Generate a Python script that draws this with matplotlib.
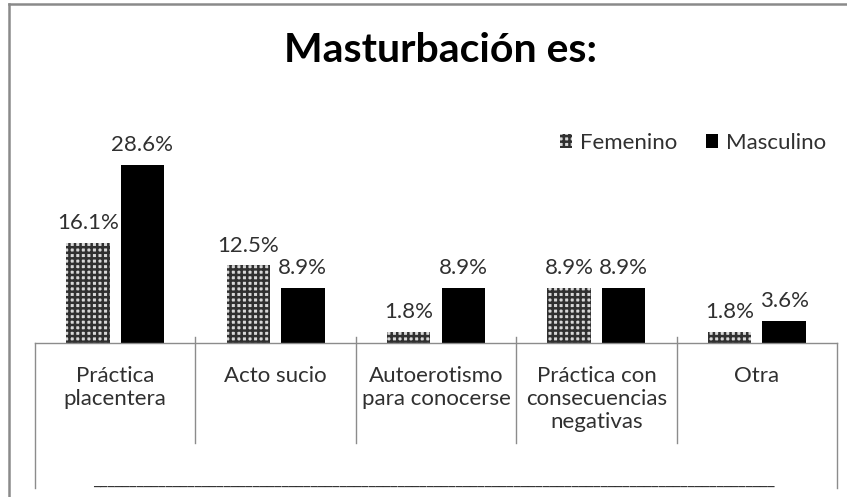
import matplotlib
matplotlib.use("Agg")
import matplotlib.pyplot as plt
import matplotlib.patches as mpatches
import matplotlib.lines as mlines
import matplotlib.transforms as mtransforms
import numpy as np

categories = ["Práctica\nplacentera", "Acto sucio", "Autoerotismo\npara conocerse",
              "Práctica con\nconsecuencias\nnegativas", "Otra"]
femenino = [16.1, 12.5, 1.8, 8.9, 1.8]
masculino = [28.6, 8.9, 8.9, 8.9, 3.6]
series_names = ["Femenino", "Masculino"]
title = "Masturbación es:"

plt.rcParams['font.family'] = ['Lato', 'DejaVu Sans']
plt.rcParams['hatch.linewidth'] = 1.8

W, H = 847, 497
fig = plt.figure(figsize=(W / 100, H / 100), dpi=100)

# frame (only top and left edges visible)
fig.add_artist(mlines.Line2D([9 / W, 9 / W], [0, (H - 4) / H], transform=fig.transFigure,
                             color='#8a8a8a', lw=1.8))
fig.add_artist(mlines.Line2D([9 / W, 1], [(H - 4) / H, (H - 4) / H], transform=fig.transFigure,
                             color='#8a8a8a', lw=1.8))

left, right, base = 35, 837, 343
ymax = 30.0
ppu = 6.22
top = base - ymax * ppu
ax = fig.add_axes([left / W, (H - base) / H, (right - left) / W, (base - top) / H])
ax.set_xlim(-0.5, len(categories) - 0.5)
ax.set_ylim(0, ymax)
for s in ['top', 'left', 'right']:
    ax.spines[s].set_visible(False)
ax.spines['bottom'].set_color('#8c8c8c')
ax.spines['bottom'].set_linewidth(1.0)
ax.set_yticks([])

x = np.arange(len(categories))
bw = 0.27
off = 0.17
fb = ax.bar(x - off, femenino, bw, facecolor='#d8d8d8', edgecolor='#303030', hatch='+++', linewidth=0)
mb = ax.bar(x + off, masculino, bw, color='black')

fs = 16
for bars, vals in ((fb, femenino), (mb, masculino)):
    for b, v in zip(bars, vals):
        ax.annotate(f"{v:.1f}%", (b.get_x() + b.get_width() / 2, v), xytext=(0, 7),
                    textcoords='offset points', ha='center', va='bottom',
                    fontsize=fs, color='#303030')

ax.set_xticks(x)
ax.set_xticklabels(categories, fontsize=fs, color='#303030', linespacing=1.2)
ax.tick_params(axis='x', length=0, pad=16.5)

# separators
trans = mtransforms.blended_transform_factory(ax.transData, fig.transFigure)
for b in np.arange(-0.5, len(categories), 1.0):
    if b in (-0.5, len(categories) - 0.5):
        y0, y1 = (H - base) / H, (H - 488) / H
    else:
        y0, y1 = (H - 337) / H, (H - 443) / H
    ax.plot([b, b], [y0, y1], transform=trans, color='#8c8c8c', lw=1.0, clip_on=False)

fig.text(434 / W, (H - 482) / H, "_" * 94, ha='center', va='center', fontsize=12,
         color='#303030', family='Open Sans')

fig.text(440 / W, (H - 50) / H, title, ha='center', va='center', fontsize=29.5,
         fontweight='bold', color='black')

handles = [mpatches.Patch(facecolor='#d8d8d8', edgecolor='#303030', hatch='+++', linewidth=0, label=series_names[0]),
           mpatches.Patch(facecolor='black', label=series_names[1])]
leg = fig.legend(handles=handles, loc='center right', bbox_to_anchor=(826 / W, (H - 143) / H),
                 ncol=2, frameon=False, fontsize=fs, handlelength=0.55, handleheight=0.55,
                 handletextpad=0.35, columnspacing=1.3, borderaxespad=0, borderpad=0)
for t in leg.get_texts():
    t.set_color('#303030')

fig.savefig("out.png", dpi=100)
